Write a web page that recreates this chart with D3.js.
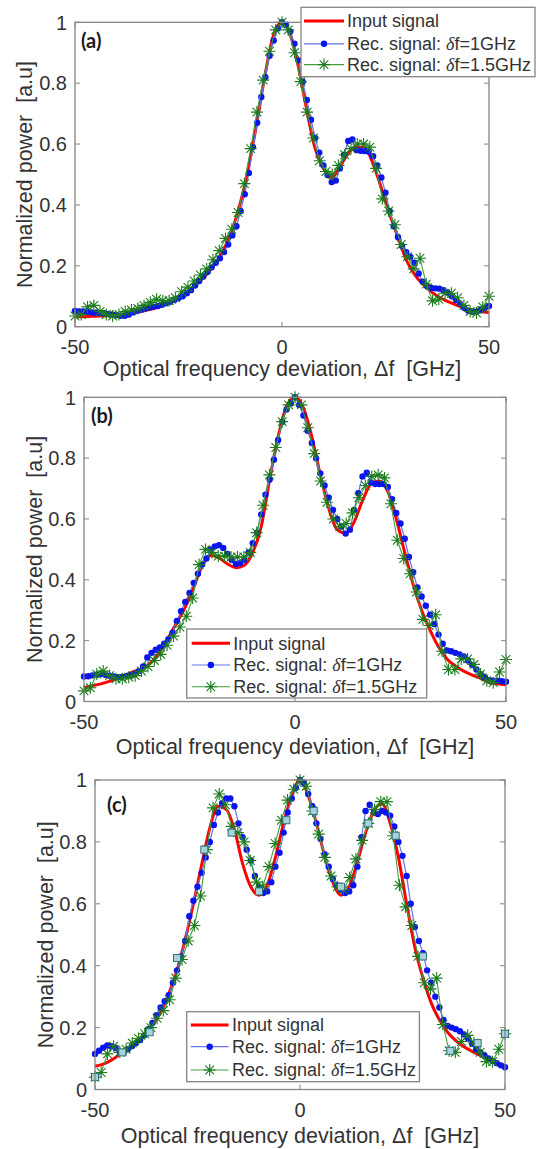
<!DOCTYPE html>
<html>
<head>
<meta charset="utf-8">
<script src="https://cdn.jsdelivr.net/npm/d3@7/dist/d3.min.js"></script>
<style>
  body { margin: 0; background: #fff; }
  svg text { font-family: "Liberation Sans", Arial, Helvetica, sans-serif; fill: #333; }
</style>
</head>
<body>
<div id="chart"></div>
<script>
// sampling grids (GHz)
var redX = d3.range(-50, 51, 2);
var blueX = d3.range(-50, 51, 1);
var greenX = d3.range(67).map(function (i) { return -50 + i * 100 / 66; });
var squareX = d3.range(16).map(function (i) { return -50 + i * 100 / 15; });

var yTicks = [0, 0.2, 0.4, 0.6, 0.8, 1];
var xTicks = [-50, 0, 50];
var legendNames = ["Input signal", "Rec. signal: ", "Rec. signal: "];
var legendTails = ["", "f=1GHz", "f=1.5GHz"];

// ---- panel (a)
var redA = [0.032, 0.033, 0.034, 0.035, 0.036, 0.038, 0.041, 0.045, 0.05, 0.056,
  0.064, 0.075, 0.088, 0.104, 0.125, 0.148, 0.175, 0.21, 0.255, 0.32,
  0.41, 0.53, 0.675, 0.835, 0.96, 1.0, 0.96, 0.85, 0.71, 0.585,
  0.52, 0.49, 0.525, 0.57, 0.59, 0.587, 0.535, 0.455, 0.37, 0.295,
  0.22, 0.172, 0.14, 0.115, 0.097, 0.083, 0.072, 0.062, 0.055, 0.05, 0.047];
var blueA = [0.052, 0.05, 0.05, 0.049, 0.047, 0.046, 0.045, 0.044, 0.042, 0.04,
  0.038, 0.036, 0.036, 0.04, 0.047, 0.052, 0.056, 0.06, 0.063, 0.066,
  0.068, 0.072, 0.077, 0.082, 0.088, 0.094, 0.1, 0.11, 0.12, 0.135,
  0.15, 0.165, 0.18, 0.195, 0.21, 0.225, 0.245, 0.27, 0.3, 0.33,
  0.38, 0.435, 0.505, 0.59, 0.67, 0.755, 0.82, 0.89, 0.94, 0.98,
  1.0,
  0.99, 0.97, 0.93, 0.875, 0.805, 0.745, 0.68, 0.62, 0.572, 0.53,
  0.498, 0.475, 0.48, 0.52, 0.565, 0.61, 0.615, 0.58, 0.578, 0.577,
  0.575, 0.56, 0.53, 0.49, 0.44, 0.38, 0.33, 0.295, 0.265, 0.245,
  0.23, 0.21, 0.175, 0.148, 0.134, 0.127, 0.126, 0.125, 0.12, 0.112,
  0.1, 0.088, 0.075, 0.062, 0.052, 0.049, 0.05, 0.055, 0.062, 0.068];
var greenA = [0.035, 0.04, 0.065, 0.07, 0.05, 0.04, 0.035, 0.04, 0.05, 0.055,
  0.06, 0.07, 0.08, 0.09, 0.085, 0.085, 0.095, 0.115, 0.13, 0.15,
  0.17, 0.19, 0.22, 0.25, 0.29, 0.32, 0.375, 0.47, 0.585, 0.705,
  0.81, 0.905, 0.975, 1.0, 0.975, 0.9, 0.805, 0.705, 0.62, 0.545,
  0.51, 0.5, 0.53, 0.565, 0.585, 0.6, 0.6, 0.59, 0.52, 0.42,
  0.38, 0.335, 0.27, 0.23, 0.19, 0.225, 0.14, 0.085, 0.09, 0.11,
  0.11, 0.095, 0.07, 0.05, 0.045, 0.065, 0.10];

// ---- panel (b)
var redB = [0.045, 0.052, 0.058, 0.066, 0.076, 0.088, 0.1, 0.108, 0.13, 0.165,
  0.21, 0.26, 0.31, 0.375, 0.445, 0.48, 0.472, 0.452, 0.44, 0.448,
  0.49, 0.575, 0.73, 0.87, 0.97, 1.0, 0.965, 0.87, 0.745, 0.635,
  0.565, 0.553, 0.59, 0.66, 0.715, 0.725, 0.69, 0.6, 0.49, 0.385,
  0.3, 0.235, 0.18, 0.14, 0.117, 0.1, 0.087, 0.076, 0.064, 0.058, 0.055];
var blueB = [0.082, 0.083, 0.086, 0.088, 0.09, 0.088, 0.085, 0.082, 0.08, 0.081,
  0.083, 0.086, 0.09, 0.1, 0.115, 0.145, 0.16, 0.17, 0.178, 0.19,
  0.205, 0.226, 0.265, 0.297, 0.327, 0.357, 0.39, 0.42, 0.45, 0.47,
  0.5, 0.51, 0.514, 0.505, 0.485, 0.465, 0.452, 0.455, 0.465, 0.49,
  0.52, 0.555, 0.615, 0.68, 0.73, 0.795, 0.86, 0.92, 0.96, 0.98,
  1.0,
  0.975, 0.94, 0.89, 0.85, 0.8, 0.75, 0.71, 0.67, 0.63, 0.6,
  0.575, 0.552, 0.565, 0.63, 0.685, 0.74, 0.752, 0.72, 0.715, 0.715,
  0.715, 0.705, 0.665, 0.62, 0.585, 0.535, 0.475, 0.425, 0.375, 0.345,
  0.315, 0.285, 0.255, 0.22, 0.19, 0.168, 0.165, 0.16, 0.155, 0.148,
  0.135, 0.12, 0.105, 0.09, 0.08, 0.07, 0.068, 0.068, 0.067, 0.065];
var greenB = [0.035, 0.045, 0.09, 0.1, 0.085, 0.075, 0.075, 0.08, 0.085, 0.1,
  0.115, 0.135, 0.155, 0.185, 0.215, 0.245, 0.28, 0.34, 0.45, 0.5,
  0.49, 0.478, 0.478, 0.475, 0.475, 0.475, 0.49, 0.555, 0.645, 0.745,
  0.835, 0.92, 0.975, 1.0, 0.975, 0.9, 0.815, 0.725, 0.655, 0.6,
  0.575, 0.585, 0.62, 0.67, 0.71, 0.74, 0.745, 0.735, 0.65, 0.53,
  0.47, 0.42, 0.36, 0.27, 0.25, 0.285, 0.165, 0.105, 0.105, 0.14,
  0.14, 0.122, 0.09, 0.068, 0.062, 0.097, 0.138];

// ---- panel (c)
var redC = [0.075, 0.082, 0.095, 0.113, 0.132, 0.152, 0.178, 0.208, 0.25, 0.31,
  0.385, 0.485, 0.6, 0.725, 0.845, 0.915, 0.905, 0.84, 0.73, 0.655,
  0.628, 0.66, 0.75, 0.86, 0.95, 1.0, 0.95, 0.86, 0.755, 0.67,
  0.628, 0.655, 0.735, 0.83, 0.9, 0.923, 0.86, 0.75, 0.6, 0.46,
  0.36, 0.28, 0.225, 0.185, 0.158, 0.138, 0.123, 0.11, 0.097, 0.086, 0.077];
var blueC = [0.115, 0.125, 0.135, 0.142, 0.14, 0.135, 0.122, 0.12, 0.13, 0.14,
  0.15, 0.16, 0.175, 0.195, 0.215, 0.24, 0.265, 0.285, 0.305, 0.345,
  0.385, 0.43, 0.48, 0.56, 0.61, 0.655, 0.7, 0.75, 0.8, 0.855,
  0.895, 0.925, 0.94, 0.94, 0.915, 0.86, 0.815, 0.775, 0.74, 0.69,
  0.655, 0.635, 0.64, 0.67, 0.72, 0.765, 0.83, 0.895, 0.94, 0.975,
  1.0,
  0.99, 0.955, 0.915, 0.86, 0.81, 0.76, 0.72, 0.68, 0.66, 0.645,
  0.635, 0.64, 0.66, 0.72, 0.815, 0.9, 0.92, 0.895, 0.89, 0.9,
  0.895, 0.885, 0.85, 0.8, 0.755, 0.69, 0.6, 0.525, 0.48, 0.44,
  0.385, 0.345, 0.3, 0.265, 0.225, 0.205, 0.2, 0.195, 0.188, 0.178,
  0.165, 0.148, 0.13, 0.12, 0.11, 0.1, 0.092, 0.085, 0.078, 0.072];
var greenC = [0.04, 0.055, 0.115, 0.14, 0.12, 0.13, 0.15, 0.165, 0.18, 0.2,
  0.23, 0.255, 0.29, 0.36, 0.42, 0.48, 0.53, 0.625, 0.775, 0.91,
  0.955, 0.92, 0.85, 0.83, 0.8, 0.74, 0.67, 0.655, 0.72, 0.795,
  0.87, 0.935, 0.97, 1.0, 0.98, 0.9, 0.825, 0.75, 0.69, 0.655,
  0.645, 0.685, 0.745, 0.805, 0.86, 0.905, 0.93, 0.93, 0.82, 0.66,
  0.59, 0.53, 0.43, 0.345, 0.325, 0.36, 0.21, 0.125, 0.12, 0.155,
  0.175, 0.15, 0.12, 0.09, 0.09, 0.13, 0.18];
var squareC = [0.04, 0.12, 0.185, 0.425, 0.775, 0.83, 0.64, 0.87,
  0.9, 0.655, 0.86, 0.82, 0.43, 0.125, 0.15, 0.18];

var panels = [
  { tag: "(a)", red: redA, blue: blueA, green: greenA, squares: null },
  { tag: "(b)", red: redB, blue: blueB, green: greenB, squares: null },
  { tag: "(c)", red: redC, blue: blueC, green: greenC, squares: squareC }
];

// where each axes box sits on the page
var boxes = [
  { l: 75, r: 489, t: 22.3, b: 326.7, tagX: 81, tagY: 48, ylabX: 24, xlabY: 376,
    leg: { x: 301, y: 7.3, w: 234, h: 69.4, rows: [20.9, 43.8, 64.6], l0: 304, l1: 344, tx: 347 } },
  { l: 84, r: 506, t: 397.3, b: 701.5, tagX: 91, tagY: 423, ylabX: 34, xlabY: 754,
    leg: { x: 186.7, y: 629, w: 240, h: 69, rows: [643.3, 665, 686.7], l0: 191.7, l1: 230, tx: 233.3 } },
  { l: 95, r: 505, t: 780, b: 1089.5, tagX: 107, tagY: 812, ylabX: 45, xlabY: 1143,
    leg: { x: 186.7, y: 1011.7, w: 232.7, h: 70, rows: [1025, 1046.7, 1070], l0: 190.8, l1: 228.6, tx: 232 } }
];

var redCol = "#ff0000", blueLine = "#6674ee", blueDot = "#0a14f0",
    greenLine = "#3f9f3f", greenStar = "#1c7c1c", axisCol = "#858585";

function starPath(s) {
  var d = s * 0.72;
  return "M" + (-s) + ",0H" + s + "M0," + (-s) + "V" + s +
    "M" + (-d) + "," + (-d) + "L" + d + "," + d + "M" + (-d) + "," + d + "L" + d + "," + (-d);
}

var svg = d3.select("#chart").append("svg")
  .attr("width", 539)
  .attr("height", 1149);

panels.forEach(function (p, i) {
  var bx = boxes[i];
  var x = d3.scaleLinear().domain([-50, 50]).range([bx.l, bx.r]);
  var y = d3.scaleLinear().domain([0, 1]).range([bx.b, bx.t]);
  var g = svg.append("g");

  // ticks (inside, on all four sides) and tick labels
  var ax = g.append("g");
  ax.selectAll(".yt").data(yTicks).enter().append("path")
    .attr("d", function (d) {
      return "M" + bx.l + "," + y(d) + "h5M" + bx.r + "," + y(d) + "h-5";
    })
    .attr("stroke", axisCol).attr("stroke-width", 1);
  ax.selectAll(".xt").data(xTicks).enter().append("path")
    .attr("d", function (d) {
      return "M" + x(d) + "," + bx.b + "v-5M" + x(d) + "," + bx.t + "v5";
    })
    .attr("stroke", axisCol).attr("stroke-width", 1);
  ax.selectAll(".yl").data(yTicks).enter().append("text")
    .attr("x", bx.l - 8).attr("y", function (d) { return y(d); })
    .attr("dy", "0.36em").attr("text-anchor", "end")
    .style("font-size", "20px")
    .text(function (d) { return d3.format("~g")(d); });
  ax.selectAll(".xl").data(xTicks).enter().append("text")
    .attr("x", function (d) { return x(d); }).attr("y", bx.b + 27.5)
    .attr("text-anchor", "middle")
    .style("font-size", "20px")
    .text(function (d) { return d; });

  g.append("text")
    .attr("x", (bx.l + bx.r) / 2).attr("y", bx.xlabY)
    .attr("text-anchor", "middle").style("font-size", "21.5px")
    .style("white-space", "pre")
    .text("Optical frequency deviation, \u0394f  [GHz]");
  g.append("text")
    .attr("transform", "translate(" + bx.ylabX + "," + (bx.t + bx.b) / 2 + ") rotate(-90)")
    .attr("text-anchor", "middle").attr("dy", "0.36em").style("font-size", "21.5px")
    .style("white-space", "pre")
    .text("Normalized power  [a.u]");

  // series
  var redLine = d3.line().x(function (d, k) { return x(redX[k]); })
    .y(function (d) { return y(d); }).curve(d3.curveMonotoneX);
  var blueLineGen = d3.line().x(function (d, k) { return x(blueX[k]); })
    .y(function (d) { return y(d); });
  var greenLineGen = d3.line().x(function (d, k) { return x(greenX[k]); })
    .y(function (d) { return y(d); });

  g.append("path").datum(p.red).attr("d", redLine)
    .attr("fill", "none").attr("stroke", redCol).attr("stroke-width", 3);

  g.append("path").datum(p.blue).attr("d", blueLineGen)
    .attr("fill", "none").attr("stroke", blueLine).attr("stroke-width", 1.2);
  g.append("g").selectAll("circle").data(p.blue).enter().append("circle")
    .attr("cx", function (d, k) { return x(blueX[k]); })
    .attr("cy", function (d) { return y(d); })
    .attr("r", 3.2).attr("fill", blueDot);

  g.append("path").datum(p.green).attr("d", greenLineGen)
    .attr("fill", "none").attr("stroke", greenLine).attr("stroke-width", 1.1);
  g.append("g").selectAll("path").data(p.green).enter().append("path")
    .attr("transform", function (d, k) { return "translate(" + x(greenX[k]) + "," + y(d) + ")"; })
    .attr("d", starPath(6))
    .attr("fill", "none").attr("stroke", greenStar).attr("stroke-width", 1.1);

  if (p.squares) {
    g.append("g").selectAll("rect").data(p.squares).enter().append("rect")
      .attr("x", function (d, k) { return x(squareX[k]) - 3.5; })
      .attr("y", function (d) { return y(d) - 3.5; })
      .attr("width", 7).attr("height", 7)
      .attr("fill", "#a9d3dc").attr("stroke", "#2f7283").attr("stroke-width", 1);
  }

  // box
  g.append("rect")
    .attr("x", bx.l).attr("y", bx.t)
    .attr("width", bx.r - bx.l).attr("height", bx.b - bx.t)
    .attr("fill", "none").attr("stroke", axisCol).attr("stroke-width", 1.3);

  g.append("text")
    .attr("x", bx.tagX).attr("y", bx.tagY)
    .style("font-family", "Lato, 'Open Sans', sans-serif")
    .style("font-weight", "bold").style("font-size", "20px").style("fill", "#1a1a1a")
    .text(p.tag);

  // legend
  var L = bx.leg;
  var lg = g.append("g");
  lg.append("rect").attr("x", L.x).attr("y", L.y).attr("width", L.w).attr("height", L.h)
    .attr("fill", "#fff").attr("stroke", axisCol).attr("stroke-width", 1.3);
  var mid = (L.l0 + L.l1) / 2;
  lg.append("path").attr("d", "M" + L.l0 + "," + L.rows[0] + "H" + L.l1)
    .attr("stroke", redCol).attr("stroke-width", 3);
  lg.append("path").attr("d", "M" + L.l0 + "," + L.rows[1] + "H" + L.l1)
    .attr("stroke", blueLine).attr("stroke-width", 1.2);
  lg.append("circle").attr("cx", mid).attr("cy", L.rows[1]).attr("r", 3.2).attr("fill", blueDot);
  lg.append("path").attr("d", "M" + L.l0 + "," + L.rows[2] + "H" + L.l1)
    .attr("stroke", greenLine).attr("stroke-width", 1.1);
  lg.append("path").attr("transform", "translate(" + mid + "," + L.rows[2] + ")")
    .attr("d", starPath(6)).attr("fill", "none")
    .attr("stroke", greenStar).attr("stroke-width", 1.1);

  legendNames.forEach(function (name, k) {
    var t = lg.append("text").attr("x", L.tx).attr("y", L.rows[k])
      .attr("dy", "0.36em").style("font-size", "18px");
    t.append("tspan").text(name);
    if (k > 0) {
      t.append("tspan").style("font-family", "'Liberation Serif', 'DejaVu Serif', serif")
        .style("font-style", "italic").text("\u03b4");
      t.append("tspan").text(legendTails[k]);
    }
  });
});
</script>
</body>
</html>
